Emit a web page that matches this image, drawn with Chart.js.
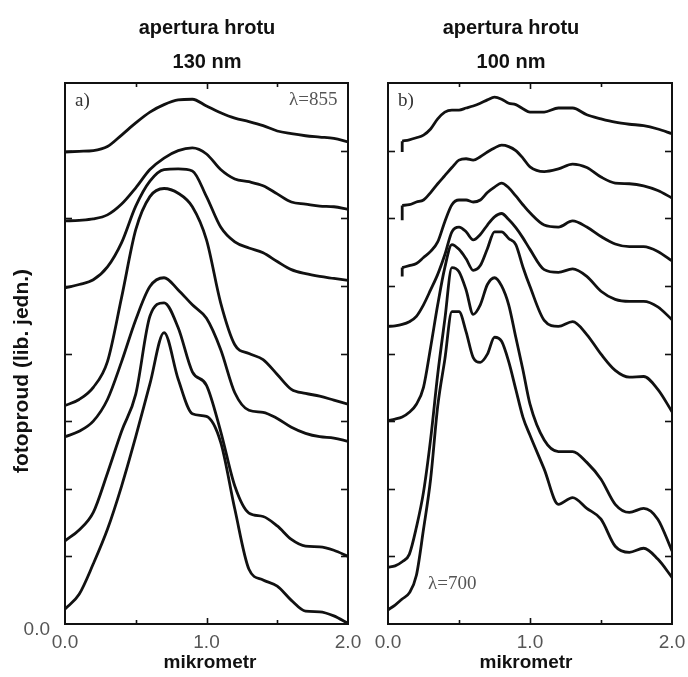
<!DOCTYPE html>
<html><head><meta charset="utf-8">
<script src="https://cdn.jsdelivr.net/npm/chart.js@4.4.0/dist/chart.umd.min.js"></script>
<style>
html,body{margin:0;padding:0;background:#fff;}
#wrap{position:relative;width:688px;height:677px;background:#fff;}
canvas{position:absolute;left:0;top:0;}
</style></head><body>
<div id="wrap"><canvas id="ca" width="688" height="677"></canvas><canvas id="cb" width="688" height="677"></canvas></div>
<script>
// ---- data: panel a (aperture 130 nm) ----
const xA = [0,0.1,0.2,0.3,0.4,0.5,0.6,0.7,0.8,0.9,1.0,1.1,1.2,1.3,1.4,1.5,1.6,1.7,1.8,1.9,2.0];
const a1 = [6.98,6.99,7.00,7.06,7.23,7.41,7.57,7.68,7.75,7.76,7.66,7.56,7.48,7.43,7.37,7.29,7.25,7.22,7.20,7.18,7.13];
const a2 = [5.96,5.97,5.99,6.05,6.21,6.45,6.72,6.89,7.00,7.04,6.95,6.72,6.58,6.54,6.48,6.36,6.24,6.21,6.18,6.17,6.13];
const a3 = [4.97,5.02,5.09,5.28,5.64,6.18,6.55,6.72,6.73,6.70,6.32,5.87,5.65,5.56,5.49,5.36,5.24,5.18,5.14,5.11,5.08];
const a4 = [3.23,3.32,3.50,3.88,4.83,5.83,6.32,6.44,6.37,6.17,5.68,4.75,4.13,4.00,3.91,3.69,3.47,3.41,3.37,3.31,3.25];
const a5 = [2.77,2.85,3.00,3.32,3.88,4.50,4.99,5.12,4.94,4.72,4.52,4.06,3.42,3.16,3.13,3.04,2.91,2.82,2.77,2.75,2.70];
const a6 = [1.23,1.39,1.65,2.23,2.85,3.40,4.55,4.75,4.38,3.73,3.53,2.85,2.04,1.64,1.59,1.45,1.25,1.15,1.14,1.09,1.00];
const a7 = [0.22,0.44,0.89,1.40,2.04,2.77,3.55,4.31,3.62,3.11,3.07,2.69,1.70,0.81,0.65,0.56,0.35,0.19,0.18,0.12,0.01];

// ---- data: panel b (aperture 100 nm) ----
const xB = [0,0.05,0.1,0.15,0.2,0.25,0.3,0.35,0.4,0.45,0.5,0.55,0.6,0.65,0.7,0.75,0.8,0.85,0.9,0.95,1.0,1.1,1.2,1.3,1.4,1.5,1.6,1.7,1.8,1.9,2.0];
const b1 = [null,null,7.14,7.16,7.19,7.23,7.32,7.47,7.57,7.60,7.60,7.63,7.66,7.70,7.75,7.79,7.76,7.70,7.68,7.62,7.57,7.57,7.63,7.63,7.53,7.47,7.42,7.39,7.37,7.32,7.25];
const b2 = [null,null,6.19,6.20,6.24,6.27,6.38,6.51,6.63,6.75,6.86,6.88,6.86,6.91,6.98,7.04,7.08,7.06,7.00,6.89,6.76,6.69,6.73,6.80,6.75,6.61,6.52,6.51,6.48,6.41,6.30];
const b3 = [null,null,5.27,5.30,5.33,5.42,5.51,5.65,5.95,6.20,6.27,6.27,6.24,6.27,6.38,6.46,6.52,6.45,6.33,6.20,6.08,5.90,5.87,5.96,5.87,5.73,5.62,5.58,5.58,5.51,5.37];
const b4 = [4.40,4.41,4.43,4.47,4.55,4.72,4.94,5.17,5.46,5.80,5.87,5.80,5.68,5.76,5.90,6.02,6.07,5.98,5.86,5.71,5.54,5.24,5.20,5.25,5.14,4.92,4.80,4.77,4.77,4.69,4.50];
const b5 = [3.01,3.03,3.06,3.13,3.25,3.50,4.09,4.72,5.27,5.61,5.54,5.40,5.23,5.30,5.55,5.80,5.80,5.70,5.61,5.28,4.99,4.49,4.40,4.47,4.28,3.99,3.75,3.65,3.66,3.47,3.14];
const b6 = [0.84,0.86,0.92,1.03,1.43,1.95,2.73,3.69,4.50,5.27,5.21,4.94,4.58,4.72,5.02,5.12,5.00,4.72,4.24,3.76,3.25,2.72,2.55,2.55,2.39,2.14,1.77,1.65,1.71,1.55,1.08];
const b7 = [0.21,0.28,0.37,0.46,0.72,1.40,2.14,3.22,3.91,4.62,4.62,4.32,3.94,3.87,3.99,4.24,4.18,3.88,3.47,3.06,2.79,2.29,1.77,1.87,1.71,1.55,1.15,1.06,1.12,0.96,0.69];
// short vertical start marks of the three upper curves in panel b
const bDashX = [0.1, 0.1];
const bDash1 = [7.14, 6.98];
const bDash2 = [6.19, 5.97];
const bDash3 = [5.27, 5.14];

// ---- axes / text ----
const xTickVals = [0, 0.5, 1.0, 1.5, 2.0];
const xTickLabels = {0: '0.0', 1: '1.0', 2: '2.0'};
const yTickVals = [0,1,2,3,4,5,6,7,8];
const yTickLabels = {0: '0.0'};
const titleA = ['apertura hrotu', '130 nm'];
const titleB = ['apertura hrotu', '100 nm'];
const xTitle = 'mikrometr';
const yTitle = 'fotoproud (lib. jedn.)';
const panelLabels = ['a)', 'b)'];
const lambdaLabels = ['\u03bb=855', '\u03bb=700'];

function line(ctx, x1, y1, x2, y2){ ctx.beginPath(); ctx.moveTo(x1,y1); ctx.lineTo(x2,y2); ctx.stroke(); }

function decoPlugin(cfg){
  return {
    id: 'deco' + cfg.name,
    afterDraw(chart){
      const {ctx, chartArea: ca, scales: {x, y}} = chart;
      ctx.save();
      ctx.strokeStyle = '#111';
      ctx.lineWidth = 2;
      ctx.strokeRect(ca.left, ca.top, ca.right - ca.left, ca.bottom - ca.top);
      ctx.lineWidth = 1.6;
      yTickVals.slice(1, -1).forEach(v => {
        const py = Math.round(y.getPixelForValue(v)) + 0.5;
        line(ctx, ca.left, py, ca.left + 7, py);
        line(ctx, ca.right - 7, py, ca.right, py);
      });
      xTickVals.slice(1, -1).forEach(v => {
        const px = Math.round(x.getPixelForValue(v)) + 0.5;
        const len = (v === 1) ? 6 : 4;
        line(ctx, px, ca.top, px, ca.top + len);
        line(ctx, px, ca.bottom - len, px, ca.bottom);
      });
      // titles
      ctx.fillStyle = '#111';
      ctx.textAlign = 'center';
      ctx.textBaseline = 'middle';
      ctx.font = 'bold 20px "Liberation Sans", Arial, sans-serif';
      ctx.fillText(cfg.title[0], cfg.titleX, 28);
      ctx.fillText(cfg.title[1], cfg.titleX, 62);
      ctx.font = 'bold 19px "Liberation Sans", Arial, sans-serif';
      ctx.fillText(xTitle, cfg.xTitleX, 663);
      if (cfg.yTitle) {
        ctx.save();
        ctx.font = 'bold 21px "Liberation Sans", Arial, sans-serif';
        ctx.translate(22, 371);
        ctx.rotate(-Math.PI / 2);
        ctx.fillText(yTitle, 0, 0);
        ctx.restore();
      }
      // panel annotations
      ctx.font = '19px "Liberation Serif", "Times New Roman", serif';
      ctx.textAlign = 'left';
      ctx.fillStyle = '#333';
      ctx.fillText(cfg.panel, ca.left + 10, 101);
      ctx.fillStyle = '#555';
      ctx.fillText(cfg.lambda, cfg.lambdaX, cfg.lambdaY);
      ctx.restore();
    }
  };
}

function curveSet(xs, ys, smooth){
  return {
    data: xs.map((xv, i) => ({x: xv, y: ys[i]})),
    borderColor: '#111',
    borderWidth: 2.8,
    pointRadius: 0,
    fill: false,
    spanGaps: false,
    tension: 0,
    cubicInterpolationMode: smooth ? 'monotone' : 'default'
  };
}

function makeChart(id, datasets, cfg){
  return new Chart(document.getElementById(id), {
    type: 'line',
    data: {datasets},
    options: {
      responsive: false,
      animation: false,
      events: [],
      layout: {padding: {top: 83, right: cfg.padRight, left: 0, bottom: 0}},
      plugins: {legend: {display: false}, tooltip: {enabled: false}, title: {display: false}},
      scales: {
        x: {
          type: 'linear', min: 0, max: 2,
          afterFit(s){ s.height = 53; s.paddingLeft = 0; s.paddingRight = 0; },
          grid: {display: false, drawTicks: false},
          border: {display: false},
          afterBuildTicks(s){ s.ticks = xTickVals.map(v => ({value: v})); },
          ticks: {
            autoSkip: false, maxRotation: 0, padding: 7, color: '#555',
            font: {family: '"Liberation Sans", Arial, sans-serif', size: 19},
            callback: v => (xTickLabels[v] !== undefined ? xTickLabels[v] : '')
          }
        },
        y: {
          type: 'linear', min: 0, max: 8,
          afterFit(s){ s.width = cfg.yWidth; s.paddingTop = 0; s.paddingBottom = 0; },
          grid: {display: false, drawTicks: false},
          border: {display: false},
          afterBuildTicks(s){ s.ticks = yTickVals.map(v => ({value: v})); },
          ticks: {
            display: cfg.showY, padding: 15, labelOffset: 6, color: '#555',
            font: {family: '"Liberation Sans", Arial, sans-serif', size: 19},
            callback: v => (yTickLabels[v] !== undefined ? yTickLabels[v] : '')
          }
        }
      }
    },
    plugins: [decoPlugin(cfg)]
  });
}

makeChart('ca', [a1,a2,a3,a4,a5,a6,a7].map(ys => curveSet(xA, ys, true)), {
  name: 'A', padRight: 340, yWidth: 65, showY: true,
  title: titleA, titleX: 207, xTitleX: 210, yTitle: true,
  panel: panelLabels[0], lambda: lambdaLabels[0], lambdaX: 289, lambdaY: 100
});
makeChart('cb', [b1,b2,b3,b4,b5,b6,b7].map(ys => curveSet(xB, ys, true))
  .concat([bDash1, bDash2, bDash3].map(ys => curveSet(bDashX, ys, false))), {
  name: 'B', padRight: 16, yWidth: 388, showY: false,
  title: titleB, titleX: 511, xTitleX: 526, yTitle: false,
  panel: panelLabels[1], lambda: lambdaLabels[1], lambdaX: 428, lambdaY: 584
});
</script>
</body></html>
